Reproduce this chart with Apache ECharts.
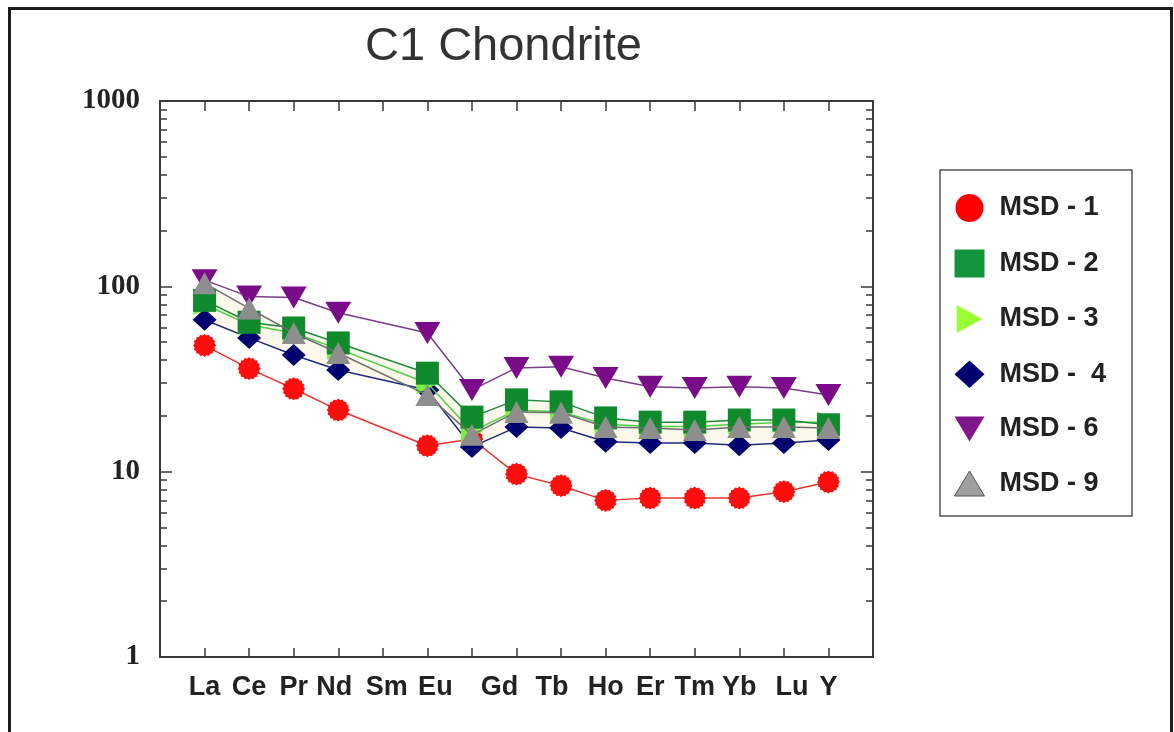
<!DOCTYPE html>
<html>
<head>
<meta charset="utf-8">
<title>C1 Chondrite</title>
<script src="https://cdn.jsdelivr.net/npm/echarts@6/dist/echarts.min.js"></script>
<style>
  html, body { margin: 0; padding: 0; background: #ffffff; }
  #chart { width: 1174px; height: 732px; }
</style>
</head>
<body>
<div id="chart"></div>
<script>
// Tick labels along the element axis (one slot per tick, '' = unlabeled tick)
const tickLabels = ['La', 'Ce', 'Pr', 'Nd', 'Sm', 'Eu', '', 'Gd', 'Tb', 'Ho', 'Er', 'Tm', 'Yb', 'Lu', 'Y'];

// Chondrite-normalised concentrations per slot (null = not analysed)
const msd1 = [48, 36, 28, 21.5, null, 13.8, 15, 9.7, 8.4, 7.0, 7.2, 7.2, 7.2, 7.8, 8.8];
const msd2 = [84, 64, 59.6, 49.5, null, 34, 19.7, 24.4, 23.8, 19.5, 18.5, 18.5, 19.0, 19.0, 17.9];
const msd3 = [80, 62, 56, 46, null, 30, 16.5, 21.5, 21, 18, 17.5, 17.5, 18, 18.5, 18.5];
const msd4 = [66, 52.7, 42.6, 35.4, null, 27.6, 13.6, 17.4, 17.2, 14.5, 14.3, 14.3, 13.9, 14.3, 14.8];
const msd6 = [108, 88, 87, 72, null, 56, 27.6, 36.3, 36.8, 32, 28.7, 28.3, 28.7, 28.3, 25.9];
const msd9 = [104, 76, 56, 43.7, null, 25.9, 15.8, 21, 20.8, 17.4, 17.2, 16.8, 17.4, 17.4, 17.2];

// Log-axis tick values
const majorTicks = [1, 10, 100, 1000];
const minorTicks = [2, 3, 4, 5, 6, 7, 8, 9, 20, 30, 40, 50, 60, 70, 80, 90, 200, 300, 400, 500, 600, 700, 800, 900];

const sampleNames = ['MSD - 1', 'MSD - 2', 'MSD - 3', 'MSD -  4', 'MSD - 6', 'MSD - 9'];

// [slot, value] pairs, skipping missing slots
function toPoints(arr) {
  const out = [];
  arr.forEach((v, i) => { if (v != null) out.push([i, v]); });
  return out;
}

// Scalloped disc used for the MSD - 1 markers
function scallopPath() {
  const n = 32, pts = [];
  for (let k = 0; k < n; k++) {
    const a = (k / n) * Math.PI * 2;
    const r = k % 2 === 0 ? 10 : 8.8;
    pts.push((10 + r * Math.cos(a)).toFixed(2) + ',' + (10 + r * Math.sin(a)).toFixed(2));
  }
  return 'path://M' + pts.join(' L') + ' Z';
}
const SCALLOP = scallopPath();
const TRI_DOWN = 'path://M0,0 L12,0 L6,10 Z';
const TRI_UP = 'path://M6,0 L12,10 L0,10 Z';
const TRI_RIGHT = 'path://M0,0 L11,6 L0,12 Z';
const DIAMOND = 'path://M6,0 L12,5.5 L6,11 L0,5.5 Z';

// Pale envelope between the upper group and MSD - 4, one quad per segment
const bandSegments = [];
{
  const idx = [];
  msd4.forEach((v, i) => { if (v != null) idx.push(i); });
  for (let k = 0; k < idx.length - 1; k++) {
    const a = idx[k], b = idx[k + 1];
    const upA = Math.max(msd2[a], msd3[a], msd9[a]);
    const upB = Math.max(msd2[b], msd3[b], msd9[b]);
    bandSegments.push([a, b, upA, upB, msd4[a], msd4[b]]);
  }
}

const labelFont = { fontFamily: '"Liberation Sans", Arial, sans-serif', fontWeight: 'bold', fontSize: 27, color: '#222' };
// small horizontal nudges for a few element labels
const labelNudge = { 3: 'l4', 4: 'r4', 5: 'r8', 7: 'l17', 8: 'l9', 13: 'r8' };

const chart = echarts.init(document.getElementById('chart'), null, { renderer: 'canvas' });

function lineSeries(name, arr, symbol, size, markerColor, lineColor, z) {
  return {
    name: name,
    type: 'line',
    xAxisIndex: 0,
    yAxisIndex: 0,
    data: toPoints(arr),
    symbol: symbol,
    symbolSize: size,
    showAllSymbol: true,
    z: z,
    lineStyle: { color: lineColor, width: 1.5 },
    itemStyle: { color: markerColor, opacity: 1 },
    emphasis: { disabled: true },
    animation: false
  };
}

function logAxis(position, custom, len, withLine, withLabels) {
  return {
    type: 'log',
    logBase: 10,
    position: position,
    min: 1,
    max: 1000,
    splitLine: { show: false },
    axisLine: { show: withLine, onZero: false, lineStyle: { color: '#3a3a3a', width: 2 } },
    axisTick: { show: true, inside: true, length: len, customValues: custom, lineStyle: { color: '#3a3a3a', width: 1.5 } },
    axisLabel: withLabels ? {
      margin: 20,
      customValues: majorTicks,
      formatter: function (v) { return String(Math.round(v)); },
      fontFamily: '"Liberation Serif", "Times New Roman", serif',
      fontWeight: 'bold',
      fontSize: 29,
      color: '#222'
    } : { show: false }
  };
}

const option = {
  backgroundColor: '#ffffff',
  animation: false,
  title: {
    text: 'C1 Chondrite',
    left: 360,
    top: 19,
    textStyle: { fontFamily: '"Liberation Sans", Arial, sans-serif', fontWeight: 'normal', fontSize: 47, color: '#333' }
  },
  graphic: [{
    type: 'rect',
    z: -10,
    shape: { x: 9.5, y: 8.5, width: 1162, height: 760 },
    style: { fill: 'none', stroke: '#1c1c1c', lineWidth: 3 }
  }],
  legend: {
    orient: 'vertical',
    left: 940,
    top: 170,
    padding: [24, 26, 19, 14],
    itemWidth: 30,
    itemHeight: 28,
    itemGap: 27.5,
    borderColor: '#555',
    borderWidth: 1.5,
    backgroundColor: '#ffffff',
    selectedMode: false,
    textStyle: { fontFamily: '"Liberation Sans", Arial, sans-serif', fontWeight: 'bold', fontSize: 27, color: '#222', padding: [0, 0, 0, 10] },
    data: [
      { name: sampleNames[0], icon: 'circle', itemStyle: { color: '#ff0000' } },
      { name: sampleNames[1], icon: 'rect', itemStyle: { color: '#12943c' } },
      { name: sampleNames[2], icon: TRI_RIGHT, itemStyle: { color: '#99ff33' } },
      { name: sampleNames[3], icon: DIAMOND, itemStyle: { color: '#000070' } },
      { name: sampleNames[4], icon: TRI_DOWN, itemStyle: { color: '#80168c' } },
      { name: sampleNames[5], icon: TRI_UP, itemStyle: { color: '#a0a0a0', borderColor: '#555', borderWidth: 1 } }
    ]
  },
  grid: { left: 160, right: 301, top: 101, bottom: 75 },
  xAxis: [{
    type: 'value',
    position: 'bottom',
    min: -1,
    max: 15,
    interval: 1,
    splitLine: { show: false },
    axisLine: { show: true, onZero: false, lineStyle: { color: '#3a3a3a', width: 2 } },
    axisTick: { show: true, inside: true, length: 9, lineStyle: { color: '#3a3a3a', width: 1.5 } },
    axisLabel: Object.assign({
      margin: 17,
      showMinLabel: true,
      showMaxLabel: true,
      formatter: function (v) {
        const t = tickLabels[v];
        if (!t) return '';
        const k = labelNudge[v];
        return k ? '{' + k + '|' + t + '}' : t;
      },
      rich: {
        l4: Object.assign({ padding: [0, 8, 0, 0] }, labelFont),
        r4: Object.assign({ padding: [0, 0, 0, 8] }, labelFont),
        r8: Object.assign({ padding: [0, 0, 0, 16] }, labelFont),
        l17: Object.assign({ padding: [0, 34, 0, 0] }, labelFont),
        l9: Object.assign({ padding: [0, 18, 0, 0] }, labelFont)
      }
    }, labelFont)
  }, {
    type: 'value',
    position: 'top',
    min: -1,
    max: 15,
    interval: 1,
    splitLine: { show: false },
    axisLine: { show: true, onZero: false, lineStyle: { color: '#3a3a3a', width: 2 } },
    axisTick: { show: true, inside: true, length: 10, lineStyle: { color: '#3a3a3a', width: 1.5 } },
    axisLabel: { show: false }
  }],
  yAxis: [
    logAxis('left', majorTicks, 12, true, true),
    logAxis('left', minorTicks, 7, false, false),
    logAxis('right', majorTicks, 12, true, false),
    logAxis('right', minorTicks, 7, false, false)
  ],
  series: [
    {
      type: 'custom',
      name: 'envelope',
      xAxisIndex: 0,
      yAxisIndex: 0,
      z: 1,
      silent: true,
      data: bandSegments,
      encode: { x: [0, 1], y: [2, 3, 4, 5] },
      renderItem: function (params, api) {
        const p1 = api.coord([api.value(0), api.value(2)]);
        const p2 = api.coord([api.value(1), api.value(3)]);
        const p3 = api.coord([api.value(1), api.value(5)]);
        const p4 = api.coord([api.value(0), api.value(4)]);
        return {
          type: 'polygon',
          shape: { points: [p1, p2, p3, p4] },
          style: { fill: '#fbf5e2', opacity: 0.7, stroke: null }
        };
      }
    },
    lineSeries(sampleNames[0], msd1, SCALLOP, 23, '#ff0d0d', '#e8342c', 2),
    lineSeries(sampleNames[3], msd4, DIAMOND, [24, 22], '#00006e', '#1d2a7e', 3),
    lineSeries(sampleNames[2], msd3, TRI_RIGHT, [22, 22], '#77f53a', '#4fcf45', 4),
    lineSeries(sampleNames[1], msd2, 'rect', 23, '#0f8a2c', '#1f8a3a', 5),
    lineSeries(sampleNames[4], msd6, TRI_DOWN, [26, 22], '#7a0c8a', '#7a3d88', 6),
    lineSeries(sampleNames[5], msd9, TRI_UP, [24, 22], '#8e8e8e', '#6f6f6f', 7)
  ]
};

chart.setOption(option);
</script>
</body>
</html>
